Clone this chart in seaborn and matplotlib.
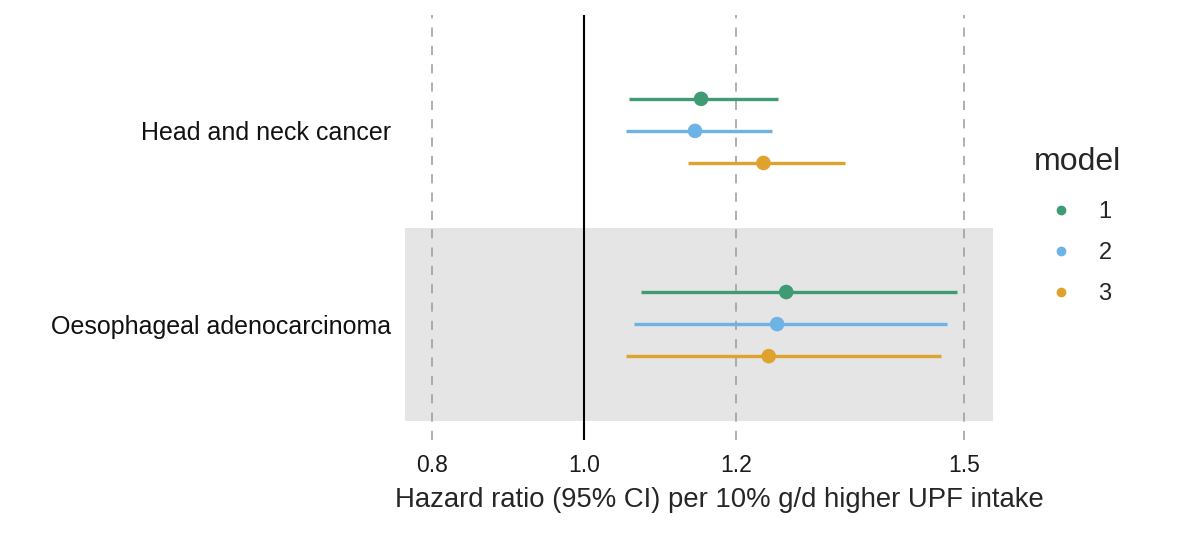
import pandas as pd
import matplotlib.pyplot as plt
import seaborn as sns

# values
outcomes = ["Head and neck cancer", "Oesophageal adenocarcinoma"]
models = ["1", "2", "3"]
hr_hnc = [1.154, 1.146, 1.236]
lo_hnc = [1.059, 1.055, 1.137]
hi_hnc = [1.255, 1.247, 1.343]
hr_oac = [1.266, 1.254, 1.243]
lo_oac = [1.075, 1.066, 1.055]
hi_oac = [1.491, 1.478, 1.470]
xticks = [0.8, 1.0, 1.2, 1.5]

palette = {"1": "#3E9B73", "2": "#6DB3E6", "3": "#E0A22E"}

rows = []
for i, (hr, lo, hi) in enumerate([(hr_hnc, lo_hnc, hi_hnc), (hr_oac, lo_oac, hi_oac)]):
    for j, m in enumerate(models):
        rows.append({"outcome": outcomes[i], "model": m, "hr": hr[j], "lo": lo[j], "hi": hi[j],
                     "ypos": i + (j - 1) * 0.166})
df = pd.DataFrame(rows)

sns.set_theme(style="white")
plt.rcParams['font.family'] = ['Liberation Sans', 'DejaVu Sans']

fig = plt.figure(figsize=(12, 5.41), dpi=100)
ax = fig.add_axes([405 / 1200, 1 - 440 / 541, 588 / 1200, 425 / 541])

# grey band behind the second outcome
ax.axhspan(0.5, 1.5, color="#E5E5E5", zorder=0, lw=0)

for x in [0.8, 1.2, 1.5]:
    ax.axvline(x, color="#9A9A9A", lw=1.1, dashes=(6, 6), zorder=1)
ax.axvline(1.0, color="black", lw=1.5, zorder=1)

for _, r in df.iterrows():
    ax.hlines(r["ypos"], r["lo"], r["hi"], color=palette[r["model"]], lw=2.4, zorder=2)

sns.scatterplot(data=df, x="hr", y="ypos", hue="model", palette=palette, s=110,
                edgecolor="none", zorder=3, ax=ax, legend=False)

ax.set_xlim(0.7645, 1.538)
ax.set_ylim(1.6, -0.6)
ax.set_xticks(xticks)
ax.set_xticklabels([f"{v:.1f}" for v in xticks], fontsize=16.5, color="#1a1a1a")
ax.set_yticks([0, 1])
ax.set_yticklabels(outcomes, fontsize=18, color="#111111")
ax.tick_params(axis="both", length=0)
ax.tick_params(axis="x", pad=10)
ax.tick_params(axis="y", pad=10)
ax.set_xlabel("Hazard ratio (95% CI) per 10% g/d higher UPF intake", fontsize=19.8, labelpad=7)
ax.xaxis.label.set_x(0.535)
ax.set_ylabel("")
for s in ax.spines.values():
    s.set_visible(False)

# legend
handles = [plt.Line2D([], [], marker="o", ls="none", color=palette[m], markersize=6) for m in models]
leg = fig.legend(handles, models, title="model", loc="upper left",
                 bbox_to_anchor=(1024 / 1200, 1 - 138 / 541), frameon=False,
                 fontsize=17, title_fontsize=23, labelspacing=0.81, handlelength=2.3,
                 handletextpad=0.45, borderaxespad=0)
leg._legend_box.align = "left"
leg._legend_box.sep = 17

plt.savefig("out.png", dpi=100)
plt.close()
